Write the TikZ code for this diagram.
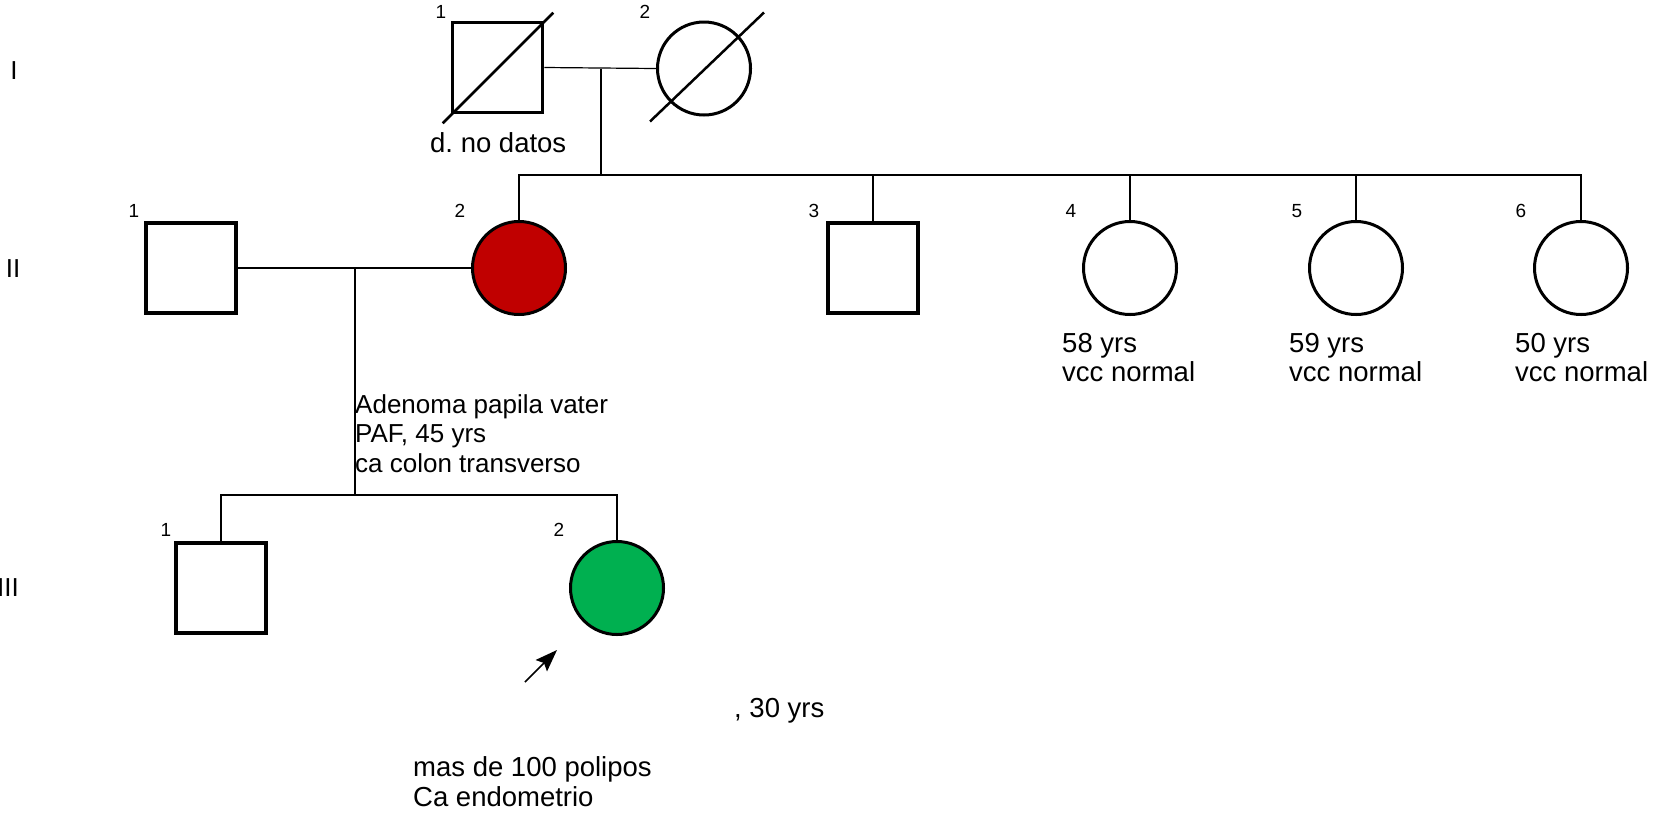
\documentclass[tikz,border=0pt]{standalone}
\usepackage{fontspec}
\setmainfont{Liberation Sans}
\usetikzlibrary{calc}
\definecolor{affred}{RGB}{192,0,0}
\definecolor{affgreen}{RGB}{0,176,80}
\frenchspacing
\begin{document}
\begin{tikzpicture}[x=1pt,y=-1pt,
  male/.style={draw, line width=3.5pt, rectangle, minimum size=90pt, inner sep=0pt, fill=white},
  female/.style={draw, line width=3pt, circle, minimum size=93pt, inner sep=0pt, fill=white},
  conn/.style={line width=1.2pt},
  dead/.style={line width=2.5pt},
  txt/.style={font=\fontsize{27.5}{30}\selectfont, anchor=base west, inner sep=0pt},
  txts/.style={font=\fontsize{26}{29.5}\selectfont, anchor=base west, inner sep=0pt},
  num/.style={font=\fontsize{19}{22}\selectfont, inner sep=0pt},
  gen/.style={font=\fontsize{26}{30}\selectfont, inner sep=0pt}]
\useasboundingbox (0,0) rectangle (1653,815);

% generation labels
\node[gen] (gI) at (14,71) {I};
\node[gen] (gII) at (13,269) {II};
\node[gen] (gIII) at (8,588) {III};

% generation I
\node[male] (I1) at (497.5,67.5) {};
\node[female] (I2) at (704,68.5) {};
\node[num] (nI1) at (441,12) {1};
\node[num] (nI2) at (645,12) {2};
\draw[dead] ($(I1.south west)+(-8,9)$) -- ($(I1.north east)+(9,-8)$);
\draw[dead] ($(I2.center)+(-54,53)$) -- ($(I2.center)+(60,-56)$);

% generation II
\node[male] (II1) at (191,268) {};
\node[female, fill=affred] (II2) at (519,268) {};
\node[male] (II3) at (873,268) {};
\node[female] (II4) at (1130,268) {};
\node[female] (II5) at (1356,268) {};
\node[female] (II6) at (1581,268) {};
\node[num] (nII1) at (134,211) {1};
\node[num] (nII2) at (460,211) {2};
\node[num] (nII3) at (814,211) {3};
\node[num] (nII4) at (1071,211) {4};
\node[num] (nII5) at (1297,211) {5};
\node[num] (nII6) at (1521,211) {6};

% generation III
\node[male] (III1) at (221,588) {};
\node[female, fill=affgreen] (III2) at (617,588) {};
\node[num] (nIII1) at (166,530) {1};
\node[num] (nIII2) at (559,530) {2};

% connectors I
\coordinate (mI) at (601,68.5);
\coordinate (sII) at (601,175);
\draw[conn] (I1.east) -- (I2.west);
\draw[conn] (mI) -- (sII);
\draw[conn] (II2.north) |- (sII) -| (II6.north);
\draw[conn] (II3.north) -- (II3.north |- sII);
\draw[conn] (II4.north) -- (II4.north |- sII);
\draw[conn] (II5.north) -- (II5.north |- sII);

% connectors II
\coordinate (mII) at (355,268);
\coordinate (sIII) at (355,495);
\draw[conn] (II1.east) -- (II2.west);
\draw[conn] (mII) -- (sIII);
\draw[conn] (III1.north) |- (sIII) -| (III2.north);

% proband arrow
\coordinate (pa0) at (525,682);
\coordinate (pa1) at (557,650);
\draw[line width=1.5pt] (pa0) -- ($(pa1)+(-12,12)$);
\fill (pa1) -- ($(pa1)+(-10,21.5)$) -- ($(pa1)+(-13,13)$) -- ($(pa1)+(-21.5,10)$) -- cycle;

% texts
\node[txt] (tI1) at (430,152) {d. no datos};
\node[txt] (t4a) at (1062,352) {58 yrs};
\node[txt] (t4b) at (1062,381) {vcc normal};
\node[txt] (t5a) at (1289,352) {59 yrs};
\node[txt] (t5b) at (1289,381) {vcc normal};
\node[txt] (t6a) at (1515,352) {50 yrs};
\node[txt] (t6b) at (1515,381) {vcc normal};
\node[txts] (t2a) at (355,413) {Adenoma papila vater};
\node[txts] (t2b) at (355,442) {PAF, 45 yrs};
\node[txts] (t2c) at (355,472) {ca colon transverso};
\node[txt] (t30) at (734,717) {, 30 yrs};
\node[txt] (tpa) at (413,776) {mas de 100 polipos};
\node[txt] (tpb) at (413,806) {Ca endometrio};
\end{tikzpicture}
\end{document}
